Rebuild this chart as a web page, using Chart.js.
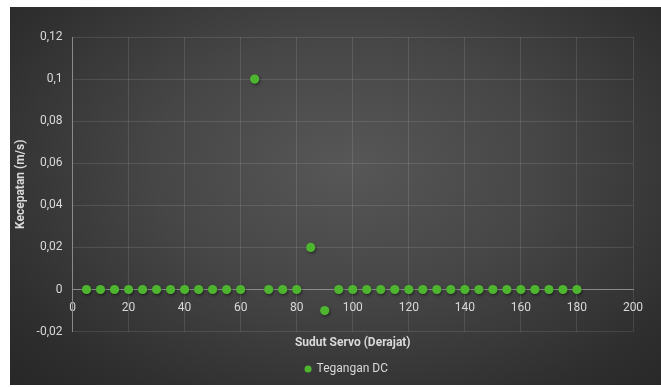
<!DOCTYPE html>
<html>
<head>
<meta charset="utf-8">
<script src="https://cdn.jsdelivr.net/npm/chart.js@4.4.1/dist/chart.umd.min.js"></script>
<style>
  html, body { margin: 0; padding: 0; background: #ffffff; }
  #frame {
    position: absolute; left: 10px; top: 7px; width: 651px; height: 378px;
    background: radial-gradient(ellipse 75% 85% at 52% 42%, #575757 0%, #464646 40%, #2e2e2e 80%, #262626 100%);
  }
  #frame canvas { display: block; }
</style>
</head>
<body>
<div id="frame"><canvas id="c" width="651" height="378"></canvas></div>
<script>
// Servo angle (degrees) against measured speed (m/s)
const angles = [5, 10, 15, 20, 25, 30, 35, 40, 45, 50, 55, 60, 65, 70, 75, 80, 85, 90,
                95, 100, 105, 110, 115, 120, 125, 130, 135, 140, 145, 150, 155, 160, 165, 170, 175, 180];
const speeds = [0, 0, 0, 0, 0, 0, 0, 0, 0, 0, 0, 0, 0.1, 0, 0, 0, 0.02, -0.01,
                0, 0, 0, 0, 0, 0, 0, 0, 0, 0, 0, 0, 0, 0, 0, 0, 0, 0];
const seriesName = 'Tegangan DC';
const xTitle = 'Sudut Servo (Derajat)';
const yTitle = 'Kecepatan (m/s)';

const textColor = '#d9d9d9';
const gridColor = 'rgba(255,255,255,0.11)';
const axisColor = '#8a8a8a';
const pointColor = '#4eb52f';
const fontFamily = 'Roboto, "Open Sans", sans-serif';

const commaNumber = v => String(parseFloat(Number(v).toFixed(4))).replace('.', ',');

// soft drop shadow under the markers
const markerShadow = {
  id: 'markerShadow',
  beforeDatasetsDraw(chart) {
    const ctx = chart.ctx;
    ctx.save();
    ctx.shadowColor = 'rgba(0,0,0,0.45)';
    ctx.shadowBlur = 3;
    ctx.shadowOffsetX = 1;
    ctx.shadowOffsetY = 1.5;
  },
  afterDatasetsDraw(chart) { chart.ctx.restore(); }
};

// place the legend roughly under the middle of the plot area
const legendUnderPlot = {
  id: 'legendUnderPlot',
  afterLayout(chart) {
    const lg = chart.legend;
    if (!lg) return;
    const shift = (chart.chartArea.left + chart.chartArea.right) / 2 - 6 - (lg.left + lg.right) / 2;
    lg.left += shift;
    lg.right += shift;
  }
};

new Chart(document.getElementById('c'), {
  type: 'scatter',
  data: {
    datasets: [{
      label: seriesName,
      data: angles.map((a, i) => ({ x: a, y: speeds[i] })),
      backgroundColor: pointColor,
      borderColor: pointColor,
      borderWidth: 0,
      pointRadius: 4.6,
      pointHoverRadius: 4.6
    }]
  },
  options: {
    responsive: false,
    animation: false,
    layout: { padding: { left: 0, top: 30, right: 28, bottom: 0 } },
    plugins: {
      legend: {
        position: 'bottom',
        labels: {
          color: textColor,
          usePointStyle: true,
          pointStyle: 'circle',
          boxWidth: 5,
          boxHeight: 5,
          padding: 2,
          font: { family: fontFamily, size: 12 }
        }
      },
      tooltip: { enabled: false }
    },
    scales: {
      x: {
        type: 'linear',
        position: { y: 0 },
        min: 0, max: 200,
        ticks: {
          stepSize: 20,
          color: textColor,
          padding: 11,
          font: { family: fontFamily, size: 12 },
          callback: v => commaNumber(v)
        },
        grid: { color: gridColor, drawTicks: false },
        border: { color: axisColor, width: 1 }
      },
      xTitle: {
        type: 'linear',
        position: 'bottom',
        display: true,
        ticks: { display: false },
        grid: { display: false, drawTicks: false },
        border: { display: false },
        title: {
          display: true,
          text: xTitle,
          color: textColor,
          padding: { top: 4, bottom: 11 },
          font: { family: fontFamily, size: 12, weight: 'bold' }
        }
      },
      y: {
        type: 'linear',
        min: -0.02, max: 0.12,
        afterFit: s => { s.width = 62.5; },
        ticks: {
          stepSize: 0.02,
          color: textColor,
          padding: 10,
          font: { family: fontFamily, size: 12 },
          callback: v => commaNumber(v)
        },
        grid: {
          color: c => (c.tick && Math.abs(c.tick.value) < 1e-9) ? axisColor : gridColor,
          drawTicks: false
        },
        border: { color: axisColor, width: 1 },
        title: {
          display: true,
          text: yTitle,
          color: textColor,
          padding: { top: 4, bottom: 0 },
          font: { family: fontFamily, size: 12, weight: 'bold' }
        }
      }
    }
  },
  plugins: [markerShadow, legendUnderPlot]
});
</script>
</body>
</html>
